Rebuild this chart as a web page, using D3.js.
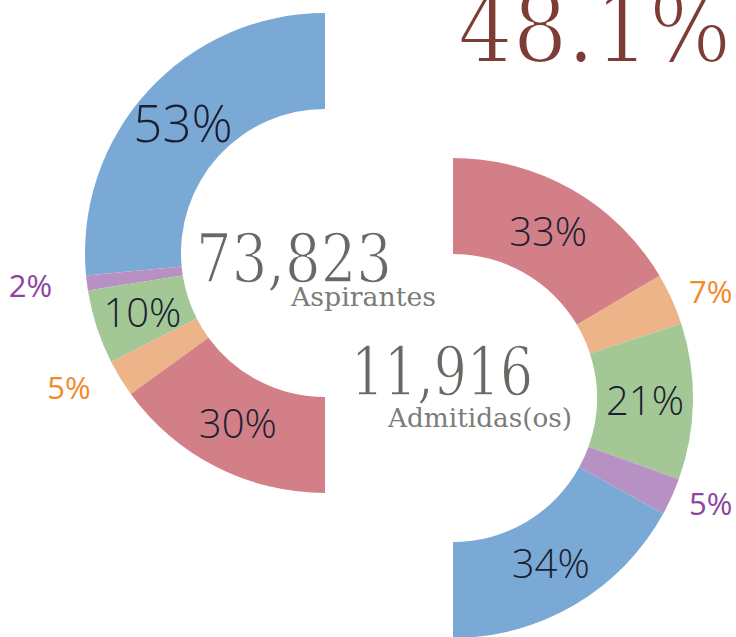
<!DOCTYPE html>
<html>
<head>
<meta charset="utf-8">
<script src="https://cdn.jsdelivr.net/npm/d3@7"></script>
<style>
  html, body { margin: 0; padding: 0; background: #ffffff; }
  svg { display: block; }
</style>
</head>
<body>
<svg id="chart" width="736" height="637"></svg>
<script>
// ---- data ----
const categories = ["Azul", "Morado", "Verde", "Naranja", "Rojo"];
const aspirantesValues = [53, 2, 10, 5, 30];
const admitidosCategories = ["Rojo", "Naranja", "Verde", "Morado", "Azul"];
const admitidosValues = [33, 7, 21, 5, 34];
const aspirantesTotal = "73,823";
const admitidosTotal = "11,916";
const aspirantesLabel = "Aspirantes";
const admitidosLabel = "Admitidas(os)";
const headline = "48.1%";

// ---- styles ----
const color = d3.scaleOrdinal()
  .domain(categories)
  .range(["#7ba9d5", "#b891c4", "#a3c795", "#ecb488", "#d37f88"]);
const outerLabelColor = d3.scaleOrdinal()
  .domain(categories)
  .range(["#1b1f33", "#8e45a0", "#1b1f33", "#f38a2a", "#1b1f33"]);

const svg = d3.select("#chart");
const outerR = 240, innerR = 144;
const arc = d3.arc().innerRadius(innerR).outerRadius(outerR);
const labelArc = d3.arc().innerRadius(192).outerRadius(192);
const sizeFor = d3.scaleThreshold().domain([50]).range([40, 51]);
const outsideRy = 258;

function donut(cx, cy, cats, values, start, end, outsideRx) {
  const data = cats.map((c, i) => ({cat: c, value: values[i]}));
  const pie = d3.pie().value(d => d.value).sort(null).startAngle(start).endAngle(end);
  const arcs = pie(data);
  const outsidePos = d => {
    const a = (d.startAngle + d.endAngle) / 2;
    return [outsideRx * Math.sin(a), -outsideRy * Math.cos(a)];
  };
  const g = svg.append("g").attr("transform", `translate(${cx},${cy})`);
  g.selectAll("path").data(arcs).join("path")
    .attr("d", arc)
    .attr("fill", d => color(d.data.cat));
  g.selectAll("text").data(arcs).join("text")
    .attr("transform", d => {
      const p = d.data.value >= 10 ? labelArc.centroid(d) : outsidePos(d);
      return `translate(${p[0]},${p[1]})`;
    })
    .attr("text-anchor", d => {
      if (d.data.value >= 10) return "middle";
      return (d.startAngle + d.endAngle) / 2 < 0 ? "end" : "start";
    })
    .attr("dy", "0.36em")
    .attr("font-family", "'Open Sans', sans-serif")
    .attr("font-weight", d => d.data.value >= 10 ? 300 : 400)
    .attr("font-size", d => d.data.value >= 10 ? sizeFor(d.data.value) : 31)
    .attr("fill", d => d.data.value >= 10 ? "#1b1f33" : outerLabelColor(d.data.cat))
    .text(d => d.data.value + "%");
}

donut(325, 253, categories, aspirantesValues, 0, -Math.PI, 275);
donut(453, 398, admitidosCategories, admitidosValues, 0, Math.PI, 259);

const serif = "'DejaVu Serif', 'Liberation Serif', serif";
function serifText(x, y, size, len, fill, thin, txt) {
  const t = svg.append("text")
    .attr("x", x).attr("y", y)
    .attr("font-family", serif)
    .attr("font-size", size)
    .attr("textLength", len)
    .attr("lengthAdjust", "spacingAndGlyphs")
    .attr("fill", fill)
    .text(txt);
  if (thin > 0) t.attr("stroke", "#ffffff").attr("stroke-width", thin);
}

// headline (cut at the top edge as in the original)
serifText(458, 62, 98, 273, "#7d3c35", 2.2, headline);
// totals
serifText(196, 282, 68, 196, "#656a62", 1.4, aspirantesTotal);
serifText(291, 306, 26, 145, "#7a7c78", 0, aspirantesLabel);
serifText(351, 395, 68, 182, "#656a62", 1.4, admitidosTotal);
serifText(388, 427, 26, 184, "#7a7c78", 0, admitidosLabel);
</script>
</body>
</html>
